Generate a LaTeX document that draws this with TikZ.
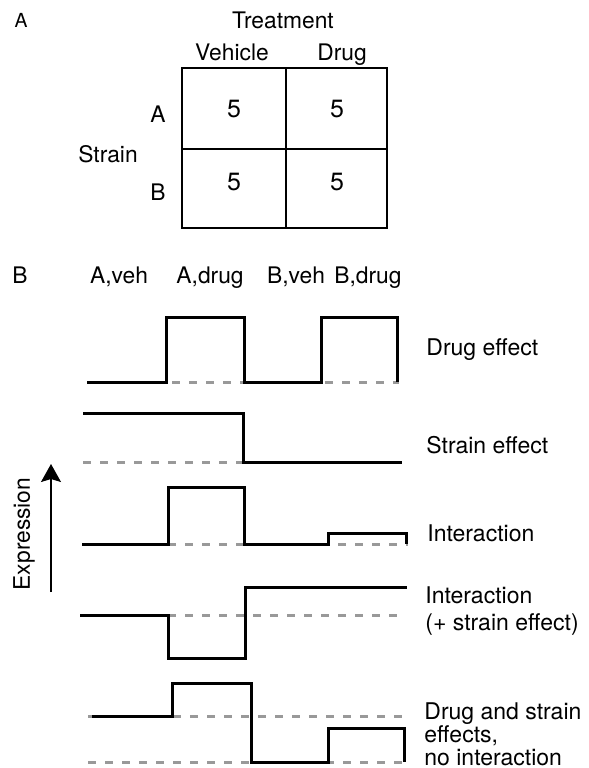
\documentclass[tikz,border=0pt]{standalone}
\usepackage{fontspec}
\setmainfont{TeX Gyre Heros}
\usetikzlibrary{arrows.meta}

\begin{document}
\begin{tikzpicture}[x=0.5pt,y=-0.5pt,
  lbl/.style={anchor=base,inner sep=0pt,font=\fontsize{11.4}{13}\selectfont},
  txt/.style={anchor=base west,inner sep=0pt,font=\fontsize{11.5}{13}\selectfont},
  num/.style={anchor=base,inner sep=0pt,font=\fontsize{12.5}{14}\selectfont},
  cell/.style={line width=0.65pt},
  wave/.style={line width=1.5pt},
  zero/.style={line width=1.5pt,black!40,dash pattern=on 4pt off 4.5pt}]
\useasboundingbox (0,0) rectangle (589,768);

\node[lbl,scale=0.85] (pa) at (21,27) {A};
\node[lbl] (treat) at (283,28) {Treatment};
\node[lbl] (veh) at (232,60) {Vehicle};
\node[lbl] (drug) at (342,60) {Drug};
\node[lbl] (rowa) at (158,122) {A};
\node[lbl] (rowb) at (158,200) {B};
\node[lbl] (strain) at (108,162) {Strain};
\draw[cell] (182,68) rectangle (387,228);
\draw[cell] (286,68) -- (286,228) (182,149) -- (387,149);
\node[num] (naa) at (234,117) {5};
\node[num] (nad) at (337,117) {5};
\node[num] (nba) at (234,190) {5};
\node[num] (nbd) at (337,190) {5};

\node[lbl] (pb) at (20,283) {B};
\node[lbl] (aveh) at (119,283) {A,veh};
\node[lbl] (adrug) at (210,283) {A,drug};
\node[lbl] (bveh) at (296,283) {B,veh};
\node[lbl] (bdrug) at (368,283) {B,drug};

\draw[zero] (87,382) -- (399,382);
\draw[wave] (87,382) -| (166,317) -| (244,382) -| (321,317) -| (397,382);
\node[txt] (deff) at (426,355) {Drug effect};

\draw[zero] (83,462) -- (243,462);
\draw[wave] (83,413) -| (243,462) -- (402,462);
\node[txt] (seff) at (426,453) {Strain effect};

\draw[zero] (168,544) -- (408,544);
\draw[wave] (82,544) -| (168,487) -| (244,544) -| (328,533) -| (406,544);
\node[txt] (inter) at (427,541) {Interaction};

\draw[zero] (168,615) -- (405,615);
\draw[wave] (80,615) -| (168,658) -| (245,587) -- (407,587);
\node[txt] (inter2) at (425,603) {Interaction};
\node[txt] (inter2b) at (425,630) {(+ strain effect)};

\draw[zero] (88,716) -- (410,716);
\draw[zero] (88,762) -- (410,762);
\draw[wave] (92,716) -| (172,683) -| (251,762) -| (328,728) -| (404,762);
\node[txt] (both) at (424,719) {Drug and strain};
\node[txt] (both2) at (424,742) {effects,};
\node[txt] (both3) at (424,765) {no interaction};

\coordinate (lo) at (51,592);
\coordinate (hi) at (51,464);
\draw[line width=0.65pt,-{Stealth[length=9pt,width=10pt,inset=1.5pt]}] (lo) -- (hi);
\node[lbl,rotate=90] (expr) at (30,534) {Expression};

\end{tikzpicture}
\end{document}
